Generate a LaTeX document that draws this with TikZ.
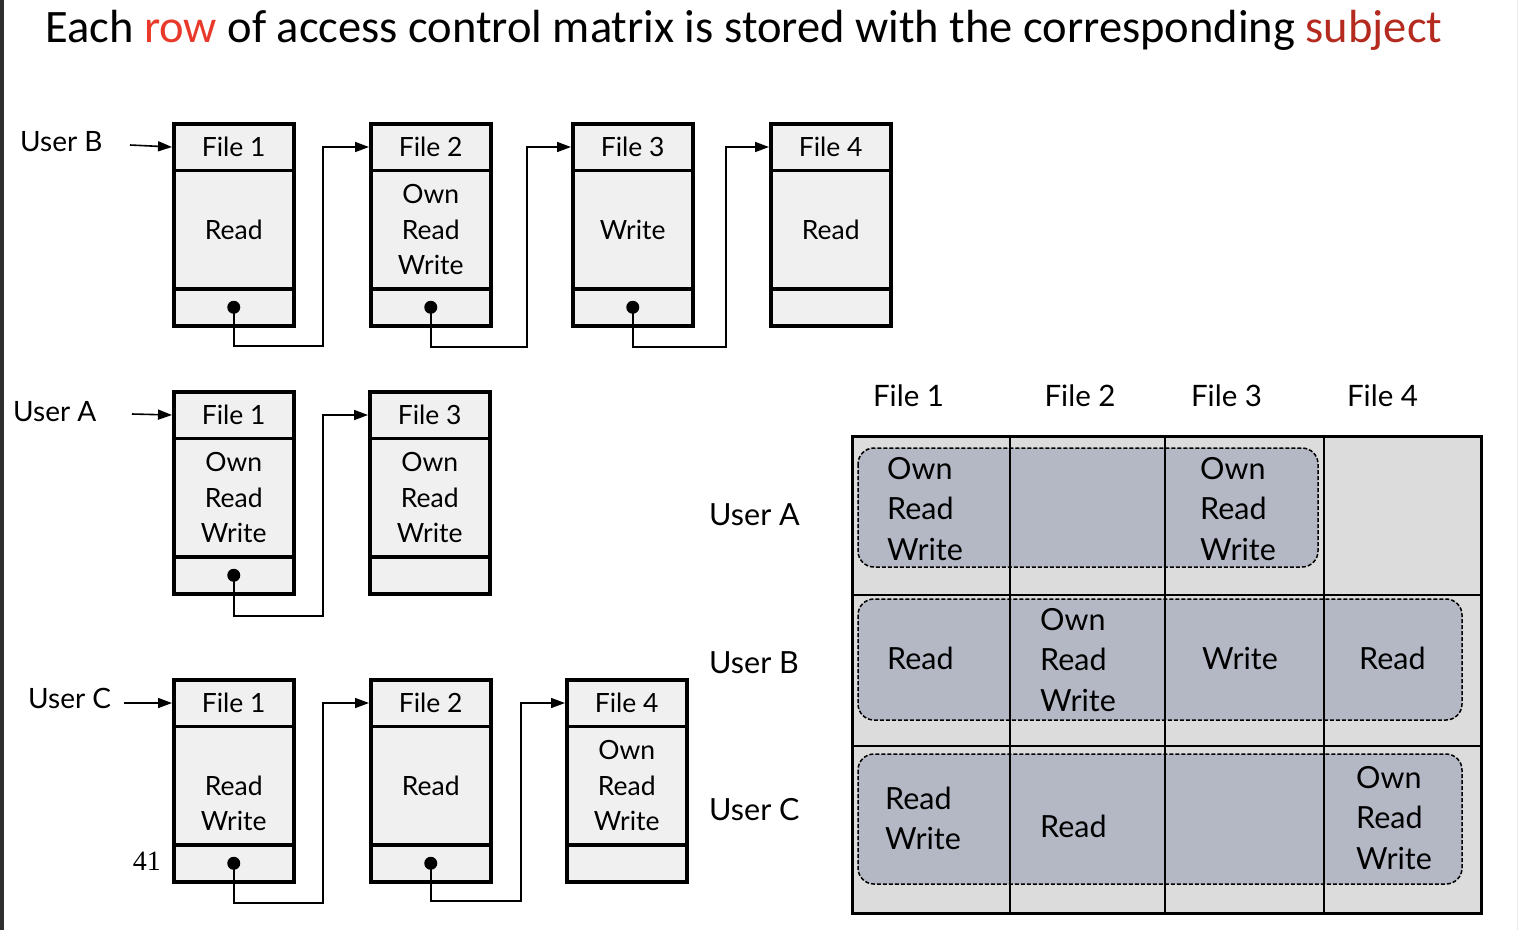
\documentclass[tikz,border=0pt]{standalone}
\usepackage{fontspec}
\setmainfont{Lato}
\newfontfamily\titlefont{Carlito}
\newfontfamily\numfont{Liberation Serif}
\usetikzlibrary{arrows.meta}
\definecolor{boxfill}{HTML}{F0F0F0}
\definecolor{cellfill}{HTML}{DCDCDC}
\definecolor{rowfill}{HTML}{B4B8C5}
\definecolor{redA}{HTML}{E8392A}
\definecolor{redB}{HTML}{B52A1E}
\definecolor{edgegrey}{HTML}{2E2E2E}
\newcommand\boxfont{\fontsize{26.5}{35.5}\selectfont}
\newcommand\lblfont{\fontsize{28}{32}\selectfont}
\newcommand\mfont{\fontsize{30.5}{40.5}\selectfont}
\newcommand\mhfont{\fontsize{29.5}{34}\selectfont}
\tikzset{
  hdr/.style={draw, line width=3.5pt, fill=boxfill, minimum width=120pt, minimum height=46.5pt, anchor=north west, inner sep=0pt, font=\boxfont},
  bodyc/.style={draw, line width=3.5pt, fill=boxfill, minimum width=120pt, minimum height=118.5pt, anchor=north west, inner sep=0pt, align=center, font=\boxfont},
  foot/.style={draw, line width=3.5pt, fill=boxfill, minimum width=120pt, minimum height=37pt, anchor=north west, inner sep=0pt},
  conn/.style={line width=1.6pt, -{Triangle[length=14pt,width=10pt]}},
  lbl/.style={anchor=west, inner sep=0pt, font=\lblfont},
  mtext/.style={anchor=west, inner sep=0pt, align=left, font=\mfont},
  mhead/.style={inner sep=0pt, font=\mhfont},
  rowbox/.style={draw, dashed, dash pattern=on 4pt off 2pt, line width=1.5pt, fill=rowfill, rounded corners=16pt},
  dot/.style={fill, circle, minimum size=13pt, inner sep=0pt}
}
\newcommand\filebox[5]{%
  \node[hdr] (#1h) at (#2,#3) {#4};
  \node[bodyc] (#1b) at (#2,#3+46.5) {#5};
  \node[foot] (#1f) at (#2,#3+165) {};
  \node[dot] (#1d) at (#1f.center) {};
}
\begin{document}
\begin{tikzpicture}[x=1pt,y=-1pt]
\useasboundingbox (0,0) rectangle (1518,930);
\fill[white] (0,0) rectangle (1518,930);
\fill[edgegrey] (0,0) rectangle (4,930);
\draw[line width=1pt, color=black!8] (1517.5,0) -- (1517.5,930);

% title
\node[anchor=base west, inner sep=0pt, font=\titlefont\fontsize{46.5}{54}\selectfont] (title) at (45,42)
  {Each \textcolor{redA}{row} of access control matrix is stored with the corresponding \textcolor{redB}{subject}};

% ---------- User B list ----------
\node[lbl] (uB) at (20,142) {User B};
\coordinate (sB) at (130,145);
\filebox{b1}{172}{122}{File 1}{Read}
\filebox{b2}{369}{122}{File 2}{Own\\Read\\Write}
\filebox{b3}{571}{122}{File 3}{Write}
\node[hdr] (b4h) at (769,122) {File 4};
\node[bodyc] (b4b) at (769,168.5) {Read};
\node[foot] (b4f) at (769,287) {};
\draw[conn] (sB) -- (b1h.west);
\draw[conn] (b1d.center) |- (323,346) |- (b2h.west);
\draw[conn] (b2d.center) |- (527,347) |- (b3h.west);
\draw[conn] (b3d.center) |- (726,347) |- (b4h.west);

% ---------- User A list ----------
\node[lbl] (uA) at (13,412) {User A};
\coordinate (sA) at (132,414);
\filebox{a1}{172}{390}{File 1}{Own\\Read\\Write}
\node[hdr] (a2h) at (368,390) {File 3};
\node[bodyc] (a2b) at (368,436.5) {Own\\Read\\Write};
\node[foot] (a2f) at (368,555) {};
\draw[conn] (sA) -- (a1h.west);
\draw[conn] (a1d.center) |- (323,616) |- (a2h.west);

% ---------- User C list ----------
\node[lbl] (uC) at (28,698) {User C};
\coordinate (sC) at (124,703);
\filebox{c1}{172}{678}{File 1}{\vphantom{Own}\\Read\\Write}
\filebox{c2}{369}{678}{File 2}{Read}
\node[hdr] (c3h) at (565,678) {File 4};
\node[bodyc] (c3b) at (565,724.5) {Own\\Read\\Write};
\node[foot] (c3f) at (565,843) {};
\draw[conn] (sC) -- (c1h.west);
\draw[conn] (c1d.center) |- (323,903) |- (c2h.west);
\draw[conn] (c2d.center) |- (521,901) |- (c3h.west);
\node[anchor=east, inner sep=0pt, font=\numfont\fontsize{28}{30}\selectfont] (pg) at (161,861) {41};

% ---------- matrix ----------
\fill[cellfill] (852,436) rectangle (1481,913);
\draw[rowbox] (858,448) rectangle (1318,567);
\draw[rowbox] (858,599) rectangle (1462,720);
\draw[rowbox] (858,754) rectangle (1462,884);
\draw[line width=1.5pt] (1010,436) -- (1010,913);
\draw[line width=1.5pt] (1165,436) -- (1165,913);
\draw[line width=1.5pt] (1324,436) -- (1324,913);
\draw[line width=1.5pt] (852,595) -- (1481,595);
\draw[line width=1.5pt] (852,746) -- (1481,746);
\draw[line width=3pt] (852,436) rectangle (1481,913);

\node[mhead] (h1) at (908.5,396) {File 1};
\node[mhead] (h2) at (1080,396) {File 2};
\node[mhead] (h3) at (1226.5,396) {File 3};
\node[mhead] (h4) at (1382.5,396) {File 4};
\node[mtext] (rA) at (709,515) {User A};
\node[mtext] (rB) at (709,663) {User B};
\node[mtext] (rC) at (709,810) {User C};

\node[mtext] (mA1) at (887,509) {Own\\Read\\Write};
\node[mtext] (mA3) at (1200,509) {Own\\Read\\Write};
\node[mtext] (mB1) at (887,658) {Read};
\node[mtext] (mB2) at (1040,660) {Own\\Read\\Write};
\node[mtext] (mB3) at (1202,658) {Write};
\node[mtext] (mB4) at (1359,658) {Read};
\node[mtext] (mC1) at (885,818.5) {Read\\Write};
\node[mtext] (mC2) at (1040,826) {Read};
\node[mtext] (mC4) at (1356,818) {Own\\Read\\Write};
\end{tikzpicture}
\end{document}
